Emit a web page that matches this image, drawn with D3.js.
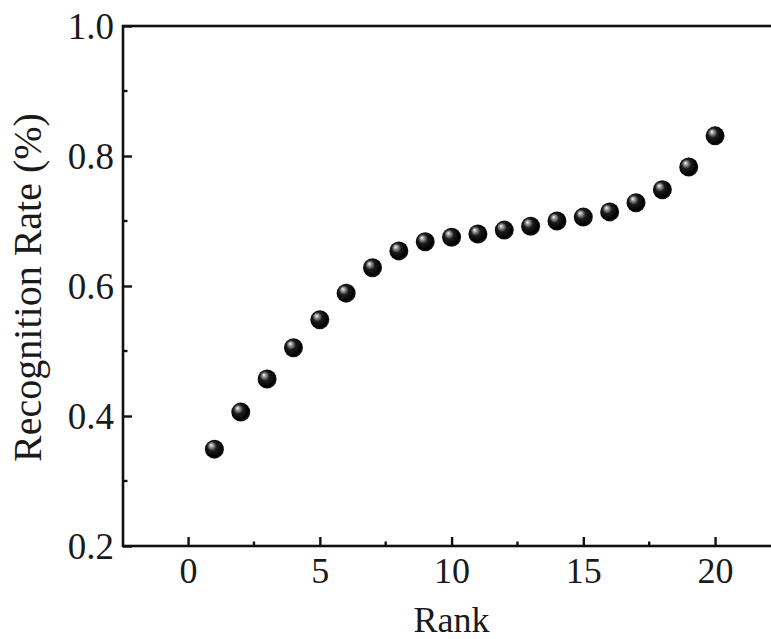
<!DOCTYPE html>
<html>
<head>
<meta charset="utf-8">
<script src="https://cdn.jsdelivr.net/npm/d3@7/dist/d3.min.js"></script>
<style>
  html, body { margin: 0; padding: 0; background: #fff; }
  svg { display: block; }
  svg text { font-family: "Liberation Serif", "Times New Roman", Times, Tinos, "DejaVu Serif", serif !important; fill: #1a1a1a; }
</style>
</head>
<body>
<svg id="chart" width="771" height="639"></svg>
<script>
const ranks = [1,2,3,4,5,6,7,8,9,10,11,12,13,14,15,16,17,18,19,20];
const rates = [0.349,0.406,0.457,0.505,0.548,0.589,0.628,0.654,0.668,0.675,0.680,0.686,0.692,0.700,0.706,0.714,0.728,0.748,0.783,0.831];
const xTicks = [0,5,10,15,20];
const yTicks = [0.2,0.4,0.6,0.8,1.0];
const xLabel = "Rank";
const yLabel = "Recognition Rate (%)";

const svg = d3.select("#chart");
const pLeft = 123, pTop = 26, pBottom = 546;
const x = d3.scaleLinear().domain([-2.47, 23.5]).range([pLeft, pLeft + 26.35 * 25.97]);
const y = d3.scaleLinear().domain([0.2, 1.0]).range([pBottom, pTop]);
const pRight = x.range()[1];

const defs = svg.append("defs");
const grad = defs.append("radialGradient").attr("id", "ball")
  .attr("cx", "45%").attr("cy", "45%").attr("r", "60%")
  .attr("fx", "32%").attr("fy", "28%");
grad.append("stop").attr("offset", "0%").attr("stop-color", "#f8f8f8");
grad.append("stop").attr("offset", "16%").attr("stop-color", "#a0a0a0");
grad.append("stop").attr("offset", "42%").attr("stop-color", "#1c1c1c");
grad.append("stop").attr("offset", "80%").attr("stop-color", "#000");
grad.append("stop").attr("offset", "100%").attr("stop-color", "#2a2a2a");
defs.append("filter").attr("id", "soft").append("feGaussianBlur").attr("stdDeviation", 0.6);

// frame
svg.append("rect").attr("x", pLeft).attr("y", pTop)
  .attr("width", pRight - pLeft).attr("height", pBottom - pTop)
  .attr("fill", "none").attr("stroke", "#111").attr("stroke-width", 2.6);

// x axis (ticks inward)
const xAxis = d3.axisBottom(x).tickValues(xTicks).tickSize(-9).tickPadding(0).tickFormat(d3.format("d"));
const gx = svg.append("g").attr("transform", `translate(0,${pBottom})`).call(xAxis);
gx.attr("font-family", null);
gx.select(".domain").remove();
gx.selectAll(".tick line").attr("stroke", "#111").attr("stroke-width", 2.4);
gx.selectAll(".tick text").attr("font-size", 36).attr("dy", 0).attr("y", 37).style("fill", "#1a1a1a");
const xMinor = d3.range(-2.5, 23.5, 2.5).filter(v => v > -2.47 && !xTicks.includes(v));
svg.append("g").selectAll("line").data(xMinor).join("line")
  .attr("x1", d => x(d)).attr("x2", d => x(d))
  .attr("y1", pBottom).attr("y2", pBottom - 4.5)
  .attr("stroke", "#111").attr("stroke-width", 2.4);

// y axis (ticks inward)
const yAxis = d3.axisLeft(y).tickValues(yTicks).tickSize(-9).tickPadding(10).tickFormat(d3.format(".1f"));
const gy = svg.append("g").attr("transform", `translate(${pLeft},0)`).call(yAxis);
gy.attr("font-family", null);
gy.select(".domain").remove();
gy.selectAll(".tick line").attr("stroke", "#111").attr("stroke-width", 2.4);
gy.selectAll(".tick text").attr("font-size", 37).attr("x", -9).attr("dy", "0.35em").style("fill", "#1a1a1a");
const yMinor = [0.3,0.5,0.7,0.9];
svg.append("g").selectAll("line").data(yMinor).join("line")
  .attr("x1", pLeft).attr("x2", pLeft + 4.5)
  .attr("y1", d => y(d)).attr("y2", d => y(d))
  .attr("stroke", "#111").attr("stroke-width", 2.4);

// labels
svg.append("text").attr("x", x(10)).attr("y", 632).attr("text-anchor", "middle")
  .attr("font-size", 36).text(xLabel);
svg.append("text").attr("transform", `translate(41,${(113 + 462) / 2}) rotate(-90)`)
  .attr("text-anchor", "middle").attr("font-size", 40).text(yLabel);

// points
svg.append("g").selectAll("circle").data(ranks.map((r, i) => ({ r, v: rates[i] }))).join("circle")
  .attr("cx", d => x(d.r)).attr("cy", d => y(d.v)).attr("r", 9.5)
  .attr("fill", "url(#ball)").attr("filter", "url(#soft)");
</script>
</body>
</html>
